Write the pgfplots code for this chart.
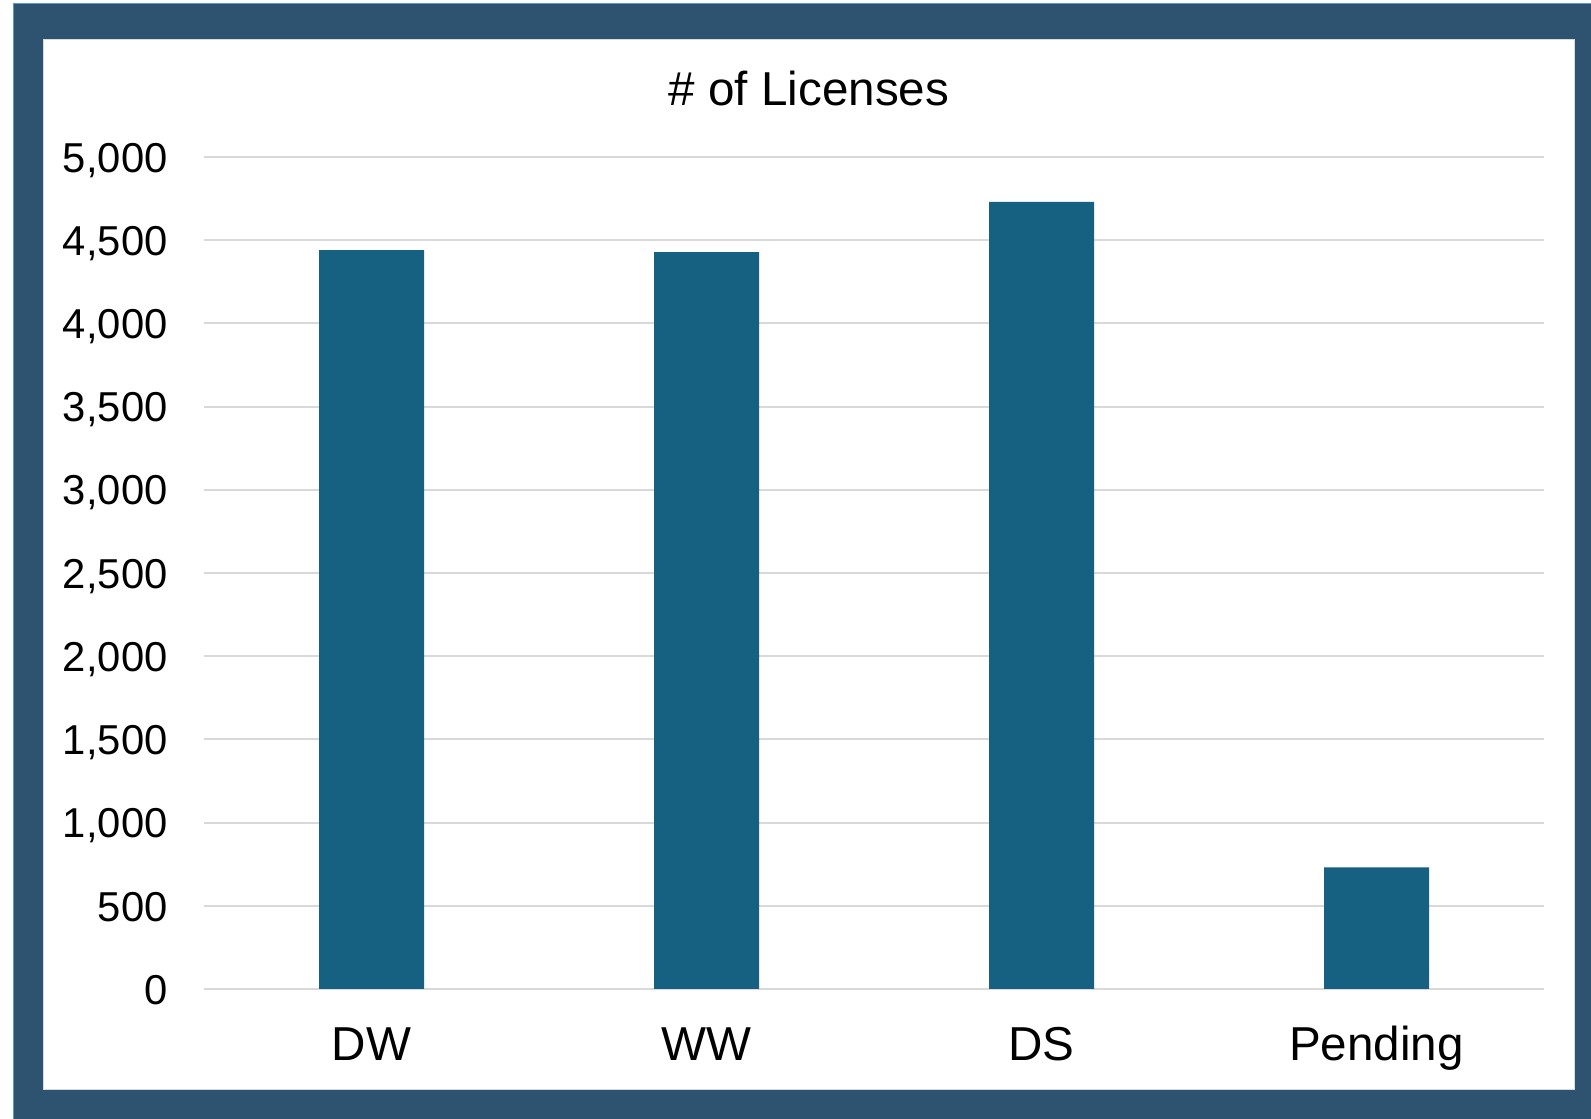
\documentclass[border=0pt]{standalone}
\usepackage{fontspec}
\setmainfont{Liberation Sans}
\usepackage{pgfplots}
\pgfplotsset{compat=1.18}

\definecolor{barblue}{HTML}{166082}
\definecolor{framedark}{HTML}{2E5370}
\definecolor{frameedge}{HTML}{5C9BC9}
\definecolor{gridgray}{HTML}{D9D9D9}

\begin{document}
\begin{tikzpicture}
% page and frame (1 px of the reference = 0.5bp)
\useasboundingbox (0,0) rectangle (795.5bp,559.5bp);
\fill[white] (0,0) rectangle (795.5bp,559.5bp);
\fill[frameedge] (6.5bp,0) rectangle (795.5bp,558bp);
\fill[framedark] (7bp,0) rectangle (795.5bp,557.5bp);
\filldraw[fill=white, draw=gridgray, line width=0.5bp] (21.5bp,14.5bp) rectangle (787bp,539.5bp);

\node[anchor=base, font=\fontsize{23.8bp}{28bp}\selectfont] at (404.5bp,506.7bp) {\# of Licenses};

\begin{axis}[
    at={(102bp,65bp)},
    anchor=south west,
    scale only axis,
    width=670bp,
    height=416bp,
    ybar,
    bar width=52.5bp,
    xmin=-0.5, xmax=3.5,
    ymin=0, ymax=5000,
    xtick=data,
    xticklabels={DW,WW,DS,Pending},
    ytick={0,500,...,5000},
    axis line style={draw=none},
    major tick length=0pt,
    ymajorgrids,
    grid style={gridgray, line width=1bp},
    /pgf/number format/.cd, 1000 sep={,}, assume math mode=true,
    /pgfplots/.cd,
    yticklabel style={anchor=base east, inner sep=0pt, xshift=-18bp, yshift=-7.6bp,
        font=\fontsize{20.9bp}{25bp}\selectfont},
    xticklabel style={anchor=base, inner sep=0pt, yshift=-35.5bp,
        font=\fontsize{23.8bp}{28bp}\selectfont},
]
\addplot[fill=barblue, draw=none] coordinates {
    (0, 4441)
    (1, 4429)
    (2, 4730)
    (3, 731)
};
\end{axis}
\end{tikzpicture}
\end{document}
